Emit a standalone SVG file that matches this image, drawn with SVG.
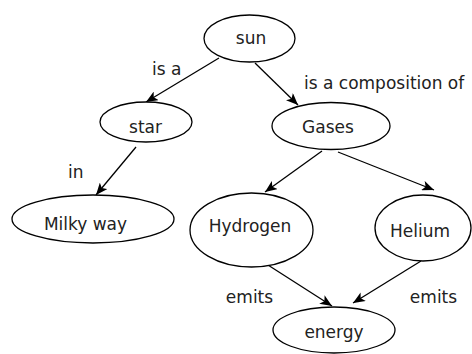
<svg xmlns="http://www.w3.org/2000/svg" width="472" height="354" viewBox="0 0 472 354">
  <style>
    .node ellipse { fill: #ffffff; stroke: #000000; stroke-width: 1.3; }
    .label { font-family: "DejaVu Sans", "Liberation Sans", sans-serif; font-size: 17px; fill: #222222; }
    .mid { text-anchor: middle; }
    .edge { stroke: #000000; stroke-width: 1.3; fill: none; marker-end: url(#arrow); }
  </style>
  <defs>
    <marker id="arrow" viewBox="0 0 12 10" refX="12" refY="5" markerWidth="12" markerHeight="10" markerUnits="userSpaceOnUse" orient="auto">
      <path d="M0,0 L12,5 L0,10 L3,5 z" fill="#000000"/>
    </marker>
  </defs>
  <rect width="472" height="354" fill="#ffffff"/>

  <g id="connectors">
    <line class="edge" x1="219" y1="58" x2="146" y2="102"/>
    <line class="edge" x1="255" y1="63" x2="298" y2="105"/>
    <line class="edge" x1="136" y1="147" x2="96" y2="195"/>
    <line class="edge" x1="322" y1="151" x2="265" y2="192"/>
    <line class="edge" x1="338" y1="152" x2="434" y2="190"/>
    <line class="edge" x1="257" y1="258" x2="332" y2="306"/>
    <line class="edge" x1="421" y1="261" x2="353" y2="303"/>
    <text class="label" x="152" y="75">is a</text>
    <text class="label" x="304" y="89">is a composition of</text>
    <text class="label" x="68" y="178">in</text>
    <text class="label mid" x="249.5" y="303">emits</text>
    <text class="label mid" x="433.5" y="303">emits</text>
  </g>

  <g id="sun" class="node">
    <ellipse cx="249.5" cy="38.5" rx="45.5" ry="23.5"/>
    <text class="label mid" x="251" y="44">sun</text>
  </g>
  <g id="star" class="node">
    <ellipse cx="146" cy="122" rx="46" ry="20"/>
    <text class="label mid" x="145.5" y="133">star</text>
  </g>
  <g id="gases" class="node">
    <ellipse cx="331" cy="126" rx="59" ry="23.5"/>
    <text class="label mid" x="328" y="133">Gases</text>
  </g>
  <g id="milky-way" class="node">
    <ellipse cx="93" cy="219" rx="81" ry="24"/>
    <text class="label mid" x="85.5" y="230">Milky way</text>
  </g>
  <g id="hydrogen" class="node">
    <ellipse cx="251.5" cy="230" rx="61.5" ry="37"/>
    <text class="label mid" x="250" y="232">Hydrogen</text>
  </g>
  <g id="helium" class="node">
    <ellipse cx="423" cy="228" rx="48" ry="33"/>
    <text class="label mid" x="420" y="237">Helium</text>
  </g>
  <g id="energy" class="node">
    <ellipse cx="334" cy="330" rx="61" ry="23"/>
    <text class="label mid" x="334" y="338">energy</text>
  </g>
</svg>
